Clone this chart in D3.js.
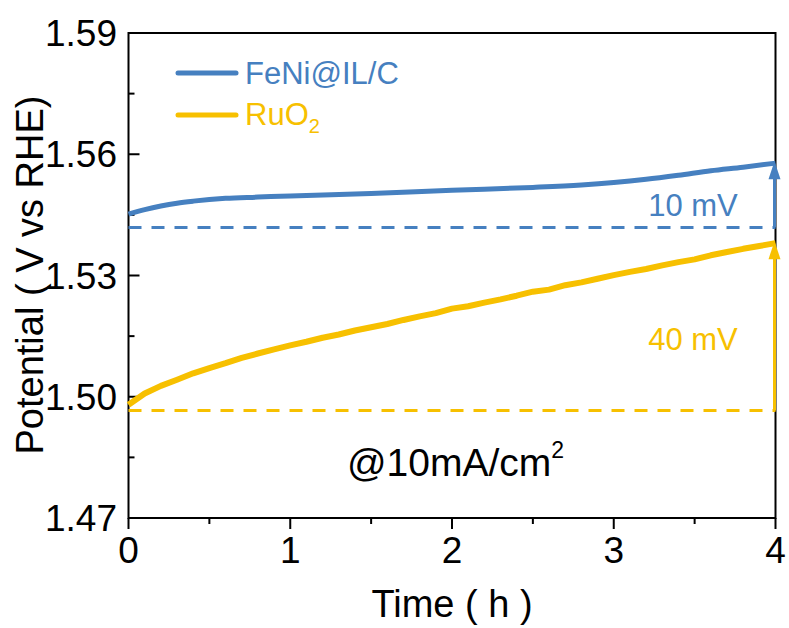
<!DOCTYPE html>
<html>
<head>
<meta charset="utf-8">
<script src="https://cdn.jsdelivr.net/npm/d3@7"></script>
<style>
  body { margin: 0; background: #fff; }
  text { font-family: Arial, "Liberation Sans", sans-serif; }
</style>
</head>
<body>
<div id="chart"></div>
<script>
// data
var blueTime = [0, 0.1, 0.2, 0.3, 0.4, 0.6, 0.8, 1.0, 1.5, 2.0, 2.5, 2.8, 3.0, 3.2, 3.4, 3.6, 3.8, 4.0];
var blueVals = [1.5452, 1.5463, 1.5472, 1.5479, 1.5484, 1.5491, 1.5494, 1.5497, 1.5503, 1.5511, 1.5518, 1.5524, 1.5530, 1.5538, 1.5548, 1.5559, 1.5568, 1.5578];

var yellowTime = [0, 0.1, 0.2, 0.3, 0.4, 0.5, 0.6, 0.7, 0.8, 0.9, 1.0, 1.1, 1.2, 1.3, 1.4, 1.5, 1.6, 1.7, 1.8, 1.9, 2.0,
  2.1, 2.2, 2.3, 2.4, 2.5, 2.6, 2.7, 2.8, 2.9, 3.0, 3.1, 3.2, 3.3, 3.4, 3.5, 3.6, 3.7, 3.8, 3.9, 4.0];
var yellowVals = [1.4980, 1.5008, 1.5027, 1.5042, 1.5058, 1.5071, 1.5083, 1.5096, 1.5107, 1.5117, 1.5127, 1.5136, 1.5146, 1.5154, 1.5164, 1.5172, 1.5180, 1.5190, 1.5199, 1.5207, 1.5218,
  1.5224, 1.5233, 1.5241, 1.5250, 1.5260, 1.5265, 1.5276, 1.5283, 1.5292, 1.5301, 1.5309, 1.5316, 1.5325, 1.5333, 1.5340, 1.5350, 1.5358, 1.5366, 1.5373, 1.5380];

var blueRef = 1.5419;
var yellowRef = 1.4966;

var xTicks = [0, 1, 2, 3, 4];
var yTicks = [1.47, 1.50, 1.53, 1.56, 1.59];

var blue = "#4680c0";
var yellow = "#f7c000";

var svgWidth = 789;
var svgHeight = 628;

var svg = d3.select("#chart")
  .append("svg")
  .attr("width", svgWidth)
  .attr("height", svgHeight);

var x = d3.scaleLinear().domain([0, 4]).range([128.5, 775.5]);
var y = d3.scaleLinear().domain([1.47, 1.59]).range([518, 33]);

// box
svg.append("rect")
  .attr("x", x(0)).attr("y", y(1.59))
  .attr("width", x(4) - x(0)).attr("height", y(1.47) - y(1.59))
  .attr("fill", "none").attr("stroke", "#000").attr("stroke-width", 2);

// bottom ticks (outward)
var xMinor = [0.5, 1.5, 2.5, 3.5];
svg.selectAll(".xt").data(xTicks).enter().append("line")
  .attr("x1", d => x(d)).attr("x2", d => x(d))
  .attr("y1", y(1.47)).attr("y2", y(1.47) + 11)
  .attr("stroke", "#000").attr("stroke-width", 2);
svg.selectAll(".xm").data(xMinor).enter().append("line")
  .attr("x1", d => x(d)).attr("x2", d => x(d))
  .attr("y1", y(1.47)).attr("y2", y(1.47) + 6)
  .attr("stroke", "#000").attr("stroke-width", 2);
svg.selectAll(".xl").data(xTicks).enter().append("text")
  .attr("x", d => x(d)).attr("y", 563)
  .attr("text-anchor", "middle")
  .style("font-size", "37px")
  .text(d => d);

// left ticks (inward)
var yMinor = [1.485, 1.515, 1.545, 1.575];
svg.selectAll(".yt").data(yTicks).enter().append("line")
  .attr("x1", x(0)).attr("x2", x(0) + 11)
  .attr("y1", d => y(d)).attr("y2", d => y(d))
  .attr("stroke", "#000").attr("stroke-width", 2);
svg.selectAll(".ym").data(yMinor).enter().append("line")
  .attr("x1", x(0)).attr("x2", x(0) + 6)
  .attr("y1", d => y(d)).attr("y2", d => y(d))
  .attr("stroke", "#000").attr("stroke-width", 2);
svg.selectAll(".yl").data(yTicks).enter().append("text")
  .attr("x", 117).attr("y", d => y(d) + 13)
  .attr("text-anchor", "end")
  .style("font-size", "37px")
  .text(d => d.toFixed(2));

// axis titles
svg.append("text")
  .attr("x", 452).attr("y", 617)
  .attr("text-anchor", "middle")
  .style("font-size", "38px")
  .text("Time ( h )");
svg.append("text")
  .attr("transform", "translate(43, 275) rotate(-90)")
  .attr("text-anchor", "middle")
  .style("font-size", "38px")
  .text("Potential ( V vs RHE)");

// reference dashed lines
svg.append("line")
  .attr("x1", x(0)).attr("x2", x(4))
  .attr("y1", y(blueRef)).attr("y2", y(blueRef))
  .attr("stroke", blue).attr("stroke-width", 3)
  .attr("stroke-dasharray", "13,10");
svg.append("line")
  .attr("x1", x(0)).attr("x2", x(4))
  .attr("y1", y(yellowRef)).attr("y2", y(yellowRef))
  .attr("stroke", yellow).attr("stroke-width", 3)
  .attr("stroke-dasharray", "13,10");

// curves
var line = d3.line()
  .x(d => x(d[0]))
  .y(d => y(d[1]));

svg.append("path")
  .datum(d3.zip(yellowTime, yellowVals))
  .attr("d", line)
  .attr("fill", "none").attr("stroke", yellow)
  .attr("stroke-width", 6).attr("stroke-linejoin", "round");

svg.append("path")
  .datum(d3.zip(blueTime, blueVals))
  .attr("d", line.curve(d3.curveMonotoneX))
  .attr("fill", "none").attr("stroke", blue)
  .attr("stroke-width", 5).attr("stroke-linejoin", "round");

// arrows
function arrow(from, to, color) {
  var ax = x(4) - 1;
  svg.append("line")
    .attr("x1", ax).attr("x2", ax)
    .attr("y1", y(from)).attr("y2", y(to) + 12)
    .attr("stroke", color).attr("stroke-width", 3);
  svg.append("path")
    .attr("d", `M${ax},${y(to) - 2} L${ax - 6},${y(to) + 16} L${ax + 6},${y(to) + 16} Z`)
    .attr("fill", color);
}
arrow(blueRef, blueVals[blueVals.length - 1], blue);
arrow(yellowRef, yellowVals[yellowVals.length - 1], yellow);

// annotations
svg.append("text")
  .attr("x", 693).attr("y", 216)
  .attr("text-anchor", "middle")
  .attr("fill", blue)
  .style("font-size", "31px")
  .text("10 mV");
svg.append("text")
  .attr("x", 693).attr("y", 350)
  .attr("text-anchor", "middle")
  .attr("fill", yellow)
  .style("font-size", "31px")
  .text("40 mV");

var cond = svg.append("text")
  .attr("x", 347).attr("y", 476)
  .style("font-size", "39px");
cond.append("tspan").text("@10mA/cm");
cond.append("tspan").attr("dy", -18).style("font-size", "23px").text("2");

// legend
svg.append("line")
  .attr("x1", 178).attr("x2", 236)
  .attr("y1", 73).attr("y2", 73)
  .attr("stroke", blue).attr("stroke-width", 5).attr("stroke-linecap", "round");
svg.append("text")
  .attr("x", 245).attr("y", 84)
  .attr("fill", blue)
  .style("font-size", "31px")
  .text("FeNi@IL/C");
svg.append("line")
  .attr("x1", 178).attr("x2", 236)
  .attr("y1", 115).attr("y2", 115)
  .attr("stroke", yellow).attr("stroke-width", 5).attr("stroke-linecap", "round");
var ru = svg.append("text")
  .attr("x", 245).attr("y", 125)
  .attr("fill", yellow)
  .style("font-size", "31px");
ru.append("tspan").text("RuO");
ru.append("tspan").attr("dy", 8).style("font-size", "20px").text("2");
</script>
</body>
</html>
